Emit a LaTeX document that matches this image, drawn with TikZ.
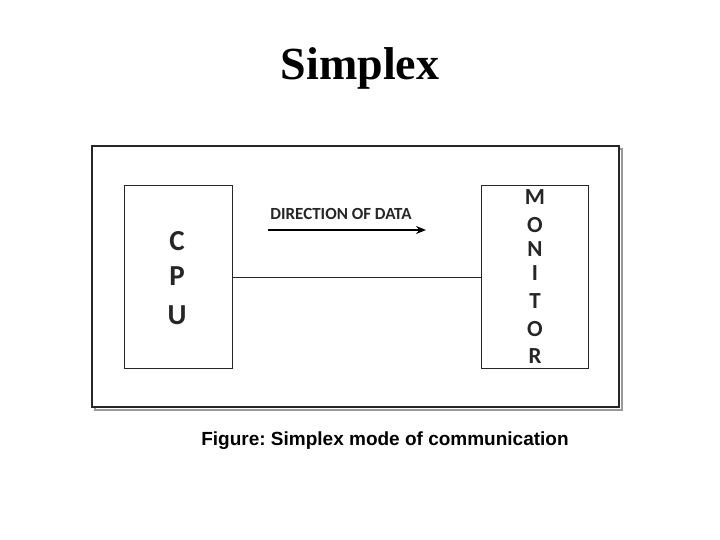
\documentclass[tikz,border=0pt]{standalone}
\usepackage{fontspec}
\setmainfont{Carlito}
\newfontfamily\titlefont{Liberation Serif}
\newfontfamily\capfont{Liberation Sans}
\usetikzlibrary{arrows.meta}
\frenchspacing
\begin{document}
\begin{tikzpicture}[x=1pt,y=-1pt,
  box/.style={draw=black!85,line width=1.4pt},
  letter/.style={font=\bfseries\fontsize{29}{29}\selectfont,inner sep=0pt,text=black!85},
  mletter/.style={font=\bfseries\fontsize{23}{23}\selectfont,inner sep=0pt,text=black!85}]
\useasboundingbox (0,0) rectangle (720,540);
\node[font=\titlefont\bfseries\fontsize{46}{46}\selectfont] (title) at (360,68) {Simplex};
\draw[black!40,line width=2pt] (95,149) rectangle (622,410);
\draw[draw=black!85,line width=2.4pt,fill=white] (92,146) rectangle (619,407);
\node[box,minimum width=108pt,minimum height=183pt,anchor=north west] (cpu) at (124,185) {};
\node[box,minimum width=107pt,minimum height=183pt,anchor=north west] (mon) at (481,185) {};
\foreach \l/\y in {C/241,P/276,U/315} \node[letter] at (177,\y) {\l};
\foreach \l/\y [count=\i] in {M/197,O/225,N/249,I/273,T/301,O/329,R/356} \node[mletter] (m\i) at (535,\y) {\l};
\draw[black!85,line width=1.4pt] (cpu.east) -- (mon.west);
\node[font=\bfseries\fontsize{17}{17}\selectfont,inner sep=0pt,text=black!85] (lab) at (341,214) {DIRECTION OF DATA};
\coordinate (a1) at (268,230);
\coordinate (a2) at (426,230);
\draw[line width=1.6pt,-{Stealth[length=10pt,width=8pt]}] (a1) -- (a2);
\node[font=\capfont\bfseries\fontsize{19}{19}\selectfont] (cap) at (385,441) {Figure: Simplex mode of communication};
\end{tikzpicture}
\end{document}
